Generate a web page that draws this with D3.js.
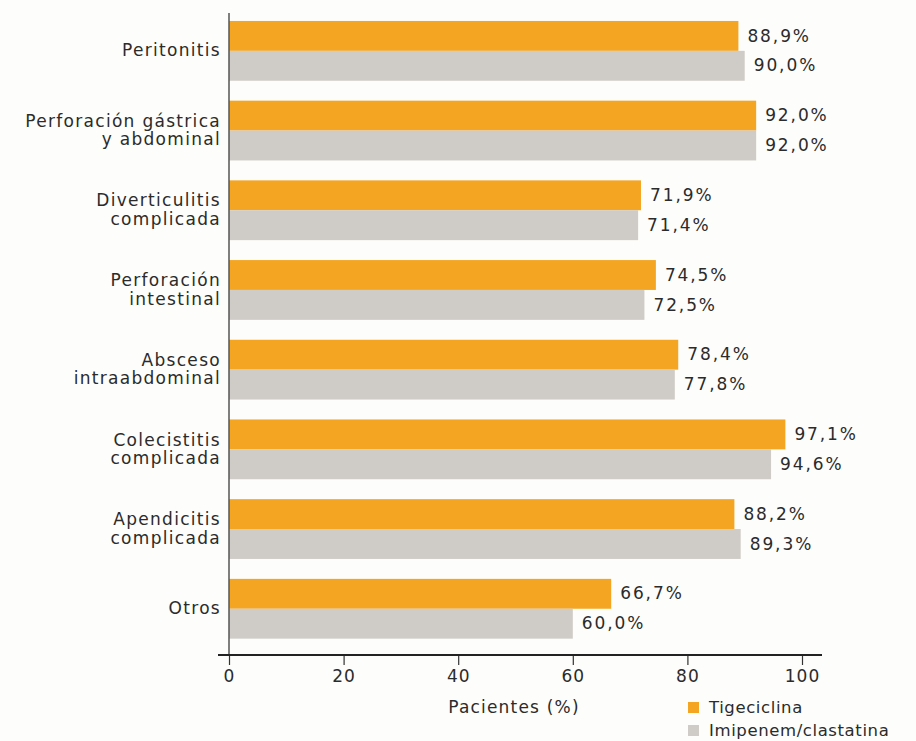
<!DOCTYPE html>
<html>
<head>
<meta charset="utf-8">
<script src="https://cdn.jsdelivr.net/npm/d3@7"></script>
<style>
  body { margin: 0; background: #fdfdfb; }
  svg text { font-family: "DejaVu Sans", sans-serif; fill: #2b2b2b; }
</style>
</head>
<body>
<div id="chart"></div>
<script>
// categories (line breaks kept as in the printed figure)
const categories = [
  ["Peritonitis"],
  ["Perforación gástrica", "y abdominal"],
  ["Diverticulitis", "complicada"],
  ["Perforación", "intestinal"],
  ["Absceso", "intraabdominal"],
  ["Colecistitis", "complicada"],
  ["Apendicitis", "complicada"],
  ["Otros"]
];
const tigeciclina = [88.9, 92.0, 71.9, 74.5, 78.4, 97.1, 88.2, 66.7];
const imipenem = [90.0, 92.0, 71.4, 72.5, 77.8, 94.6, 89.3, 60.0];
const seriesNames = ["Tigeciclina", "Imipenem/clastatina"];
const xTicks = [0, 20, 40, 60, 80, 100];
const axisTitle = "Pacientes (%)";

const colors = ["#f4a623", "#cfcbc6"];
const W = 916, H = 741;

const svg = d3.select("#chart").append("svg")
  .attr("width", W)
  .attr("height", H);

const xScale = d3.scaleLinear().domain([0, 100]).range([229, 802]);
const yScale = d3.scaleBand()
  .domain(d3.range(categories.length))
  .range([11, 648.6])
  .paddingInner(0.25)
  .paddingOuter(0.125);
const sub = d3.scaleBand().domain([0, 1]).range([0, yScale.bandwidth()]);

const fmt = v => d3.format(".1f")(v).replace(".", ",") + "%";

const rows = categories.map((c, i) => ({ i, label: c, vals: [tigeciclina[i], imipenem[i]] }));

const groups = svg.append("g").selectAll("g")
  .data(rows)
  .join("g")
  .attr("transform", d => `translate(0, ${yScale(d.i)})`);

groups.selectAll("rect")
  .data(d => d.vals.map((v, s) => ({ v, s })))
  .join("rect")
  .attr("x", xScale(0))
  .attr("y", d => sub(d.s))
  .attr("width", d => xScale(d.v) - xScale(0))
  .attr("height", sub.bandwidth())
  .attr("fill", d => colors[d.s]);

groups.selectAll("text.val")
  .data(d => d.vals.map((v, s) => ({ v, s })))
  .join("text")
  .attr("class", "val")
  .attr("x", d => xScale(d.v) + 9)
  .attr("y", d => sub(d.s) + sub.bandwidth() / 2)
  .attr("dy", "0.33em")
  .attr("font-size", 17)
  .attr("letter-spacing", 1.9)
  .text(d => fmt(d.v));

// category labels
groups.append("text")
  .attr("text-anchor", "end")
  .attr("font-size", 17)
  .attr("letter-spacing", 1.3)
  .selectAll("tspan")
  .data(d => d.label.map((t, k) => ({ t, k, n: d.label.length })))
  .join("tspan")
  .attr("x", 221)
  .attr("y", d => yScale.bandwidth() / 2 + 5.5 + (d.k - (d.n - 1) / 2) * 18.5)
  .text(d => d.t);

// vertical axis line
svg.append("line")
  .attr("x1", xScale(0)).attr("x2", xScale(0))
  .attr("y1", 13).attr("y2", 655)
  .attr("stroke", "#555")
  .attr("stroke-width", 1.5);

// bottom axis
const bottomAxis = d3.axisBottom(xScale)
  .tickValues(xTicks)
  .tickSize(10)
  .tickPadding(5)
  .tickSizeOuter(0);

const gx = svg.append("g")
  .attr("transform", "translate(0, 655)")
  .call(bottomAxis);
gx.select(".domain").remove();
gx.selectAll(".tick line").attr("stroke", "#333").attr("stroke-width", 1.2);
gx.selectAll(".tick text")
  .attr("font-size", 17)
  .attr("letter-spacing", 1)
  .attr("font-family", "DejaVu Sans, sans-serif")
  .attr("fill", "#2b2b2b");
gx.append("line")
  .attr("x1", 218).attr("x2", 822)
  .attr("y1", 0).attr("y2", 0)
  .attr("stroke", "#222")
  .attr("stroke-width", 2);

svg.append("text")
  .attr("x", 514)
  .attr("y", 713)
  .attr("text-anchor", "middle")
  .attr("font-size", 17)
  .attr("letter-spacing", 1.2)
  .text(axisTitle);

// legend
const legend = svg.append("g").selectAll("g")
  .data(seriesNames)
  .join("g")
  .attr("transform", (d, i) => `translate(688, ${702 + i * 23})`);
legend.append("rect")
  .attr("width", 11).attr("height", 11)
  .attr("fill", (d, i) => colors[i]);
legend.append("text")
  .attr("x", 21)
  .attr("y", 11)
  .attr("font-size", 16.5)
  .attr("letter-spacing", 0.6)
  .text(d => d);
</script>
</body>
</html>
